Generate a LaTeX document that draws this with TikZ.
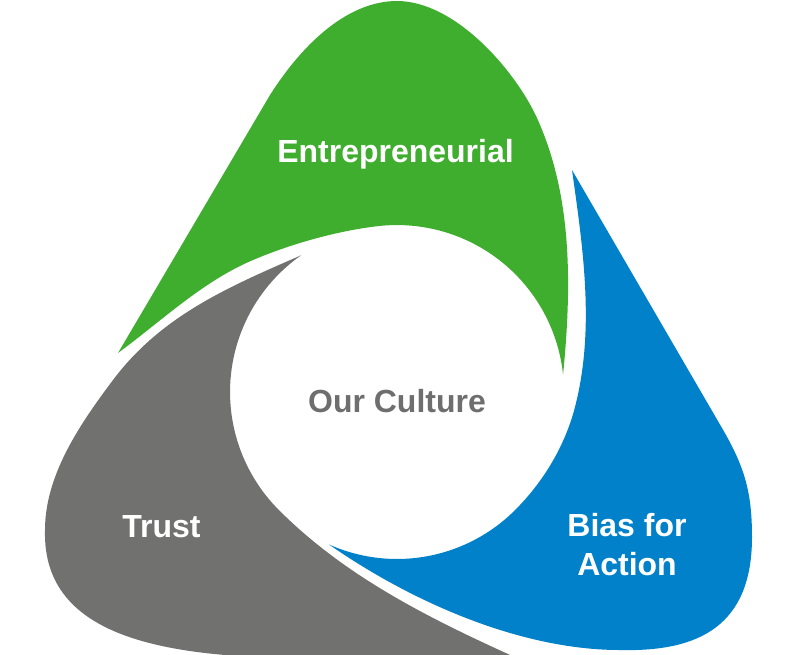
\documentclass[tikz,border=0pt]{standalone}
\usepackage{fontspec}
\setmainfont{Liberation Sans}
\definecolor{grn}{RGB}{63,174,47}
\definecolor{blu}{RGB}{0,129,201}
\definecolor{gry}{RGB}{113,114,112}
\definecolor{txtgry}{RGB}{110,110,110}
\def\circr{3.34cm}

\begin{document}
\begin{tikzpicture}[x=0.02cm, y=-0.02cm,
    lbl/.style={font=\fontsize{18.2}{22.2}\selectfont\bfseries, text=white, inner sep=0pt}]
%      \draw [help lines] (0,0) grid[step=50] (788,654);
      \useasboundingbox (0,0) rectangle (788,654);
      \clip (0,0) rectangle (788,654);

      % centre of the white disc and the tips on it
      \coordinate (cen) at (397,392);
      \coordinate (gtip) at ([shift={(cen)}]6:\circr);
      \coordinate (ytip) at ([shift={(cen)}]125:\circr);
      \coordinate (btip) at ([shift={(cen)}]246:\circr);

      % green petal
      \fill [grn] (118,353) -- (270,95)
        .. controls (305,40) and (350,1) .. (397,1)
        .. controls (455,1) and (515,70) .. (537,118)
        .. controls (570,191) and (573,275) .. (gtip)
        arc [start angle=6, end angle=97, radius=\circr]
        .. controls (335.9,231.2) and (290.7,244) .. (253,260)
        .. controls (202.4,281.5) and (162.3,320.4) .. (118,353) -- cycle;

      % blue petal
      \fill [blu] (572,170) -- (722,428)
        .. controls (744.6,466.9) and (752,492) .. (752,537)
        .. controls (752,625) and (700,652) .. (620,650)
        .. controls (520,650) and (411.1,601.6) .. (btip)
        arc [start angle=246, end angle=315, radius=\circr]
        .. controls (543.4,481.8) and (565,445.8) .. (575,407)
        .. controls (595,329.4) and (583.2,249.2) .. (572,170) -- cycle;

      % gray petal
      \fill [gry] (ytip) arc [start angle=125, end angle=225, radius=\circr]
        .. controls (349.6,580.8) and (439,623) .. (530,664)
        -- (330,658)
        .. controls (170,660) and (42,640) .. (45,530)
        .. controls (45,475) and (80,424) .. (113,380)
        .. controls (161,316) and (227.6,287.2) .. (ytip) -- cycle;

      \node [lbl, anchor=base] (entre) at (395.5,162) {Entrepreneurial};
      \node [lbl, anchor=base, text=txtgry] (culture) at (397,412) {Our Culture};
      \node [lbl, anchor=base] (trust) at (161.5,537) {Trust};
      \node [lbl, align=center] (bias) at (627,545) {Bias for\\Action};
\end{tikzpicture}
\end{document}
